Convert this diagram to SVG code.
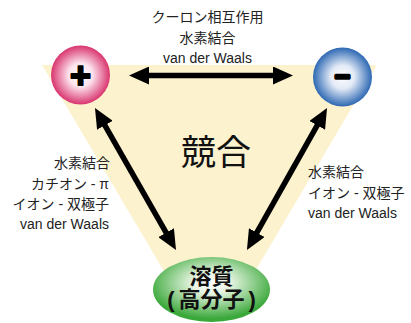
<svg xmlns="http://www.w3.org/2000/svg" width="411" height="323" viewBox="0 0 411 323">
  <style>
    .lbl { font-family: "Liberation Sans", "Noto Sans CJK JP", sans-serif; font-size: 14px; fill: #222; }
    .sym { font-family: "Liberation Sans", sans-serif; font-weight: bold; fill: #000; stroke: #000; stroke-linejoin: round; }
    .conn { stroke: #000; stroke-width: 5.5; fill: none; marker-start: url(#ah); marker-end: url(#ah); }
    .sol { font-family: "Liberation Sans", "Noto Sans CJK JP", sans-serif; font-size: 22px; font-weight: bold; fill: #111; }
  </style>
  <defs>
    <marker id="ah" markerUnits="userSpaceOnUse" markerWidth="20" markerHeight="18" refX="2" refY="9" orient="auto-start-reverse" viewBox="0 0 20 18">
      <path d="M0,0 L20,9 L0,18 Z" fill="#000"/>
    </marker>
    <radialGradient id="gPlus" cx="0.5" cy="0.5" r="0.5">
      <stop offset="0" stop-color="#ffffff"/>
      <stop offset="0.4" stop-color="#fce4ed"/>
      <stop offset="1" stop-color="#d9346f"/>
    </radialGradient>
    <radialGradient id="gMinus" cx="0.5" cy="0.5" r="0.5">
      <stop offset="0" stop-color="#ffffff"/>
      <stop offset="0.4" stop-color="#e2eaf6"/>
      <stop offset="1" stop-color="#2d68b3"/>
    </radialGradient>
    <radialGradient id="gSolute" cx="0.5" cy="0.4" r="0.55">
      <stop offset="0" stop-color="#ffffff"/>
      <stop offset="0.3" stop-color="#e6f4e1"/>
      <stop offset="1" stop-color="#3aa83a"/>
    </radialGradient>
  </defs>

  <polygon id="background" points="42,65 377,65 238,300 181,300" fill="#fcf2cd"/>

  <g id="label-top">
    <text class="lbl" x="207.5" y="22" text-anchor="middle">クーロン相互作用</text>
    <text class="lbl" x="207.5" y="42.5" text-anchor="middle">水素結合</text>
    <text class="lbl" x="207.5" y="63" text-anchor="middle">van der Waals</text>
  </g>

  <text x="216" y="164.5" text-anchor="middle" style="font-family: 'Liberation Sans', 'Noto Sans CJK JP', sans-serif; font-size: 35px; fill: #111;">競合</text>

  <g id="label-left" text-anchor="end">
    <text class="lbl" x="110" y="168">水素結合</text>
    <text class="lbl" x="109" y="188.5">カチオン - π</text>
    <text class="lbl" x="109" y="208.5">イオン - 双極子</text>
    <text class="lbl" x="109" y="229">van der Waals</text>
  </g>

  <g id="label-right">
    <text class="lbl" x="308" y="177">水素結合</text>
    <text class="lbl" x="308" y="197.5">イオン - 双極子</text>
    <text class="lbl" x="308" y="218">van der Waals</text>
  </g>

  <g id="connectors">
    <line class="conn" x1="147" y1="75.5" x2="275" y2="75.5"/>
    <line class="conn" x1="103.9" y1="123.6" x2="167.1" y2="234.4"/>
    <line class="conn" x1="318.2" y1="123.7" x2="255.8" y2="234.3"/>
  </g>

  <g id="node-plus">
    <circle cx="80.5" cy="75" r="29.5" fill="url(#gPlus)"/>
    <text class="sym" x="80.5" y="88" text-anchor="middle" font-size="36" stroke-width="2">+</text>
  </g>

  <g id="node-minus">
    <circle cx="342.5" cy="77" r="29.5" fill="url(#gMinus)"/>
    <text class="sym" x="342.5" y="84" text-anchor="middle" font-size="26" stroke-width="3.5">–</text>
  </g>

  <g id="node-solute">
    <ellipse cx="211.5" cy="289.5" rx="58.5" ry="32.5" fill="url(#gSolute)"/>
    <text class="sol" x="211.5" y="284" text-anchor="middle">溶質</text>
    <text class="sol" x="211.5" y="307" text-anchor="middle">(<tspan dx="4">高分子</tspan><tspan dx="4">)</tspan></text>
  </g>
</svg>
